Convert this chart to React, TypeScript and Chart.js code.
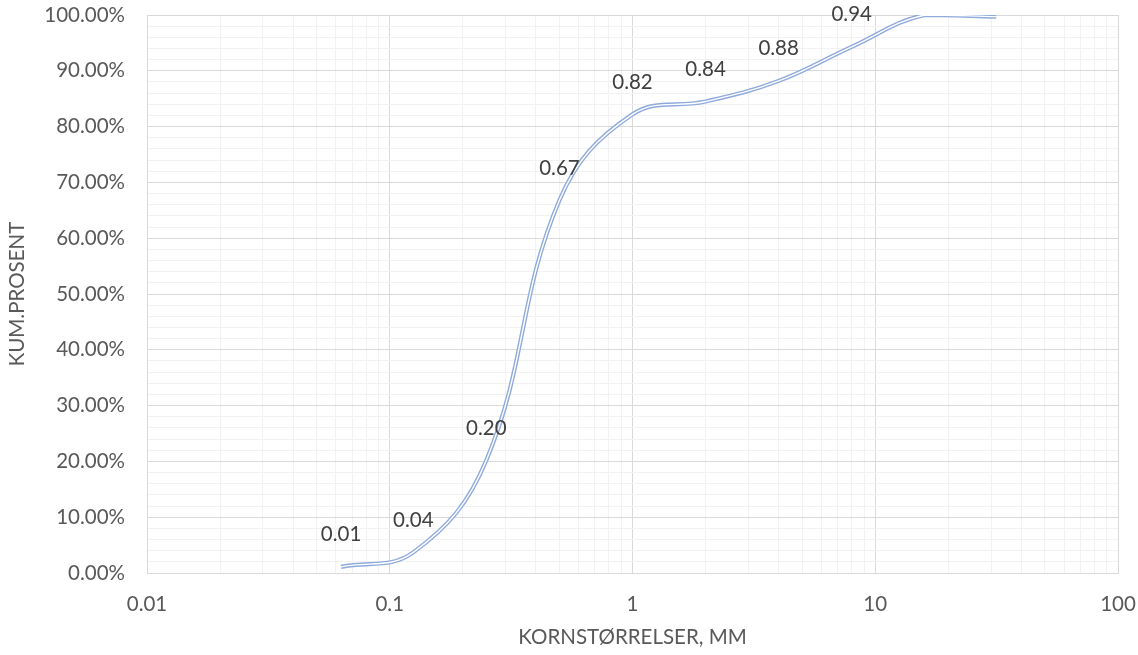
import React, { useEffect, useRef } from 'react';
import { Chart, registerables } from 'chart.js';

Chart.register(...registerables);

// Sieve sizes (mm) and cumulative passing fraction
const grainSizes = [0.063, 0.125, 0.25, 0.5, 1, 2, 4, 8, 16, 31.5];
const cumulative = [0.011, 0.037, 0.202, 0.668, 0.822, 0.845, 0.882, 0.943, 1.0, 0.997];
const showLabel = [true, true, true, true, true, true, true, true, false, false];

const xTitle = 'KORNSTØRRELSER, MM';
const yTitle = 'KUM.PROSENT';

const FONT = 'Lato, "Open Sans", sans-serif';
const FS = 20.5;
const TEXT = '#595959';
const MAJOR = '#d9d9d9';
const MINOR = '#f2f2f2';

const isDecade = (v: number) => Math.abs(Math.log10(v) - Math.round(Math.log10(v))) < 1e-9;
const isMajorY = (v: number) => Math.round(v * 50) % 5 === 0;

const labelPlugin = {
  id: 'pointValueLabels',
  afterDatasetsDraw(chart: any) {
    const meta = chart.getDatasetMeta(1);
    const ctx = chart.ctx;
    ctx.save();
    ctx.font = `${FS}px ${FONT}`;
    ctx.fillStyle = '#404040';
    ctx.textAlign = 'center';
    ctx.textBaseline = 'middle';
    meta.data.forEach((el: any, i: number) => {
      if (!showLabel[i]) return;
      ctx.fillText(cumulative[i].toFixed(2), el.x, el.y - 32);
    });
    ctx.restore();
  },
};

export default function App() {
  const ref = useRef<HTMLCanvasElement | null>(null);

  useEffect(() => {
    if (!ref.current) return;
    const points = grainSizes.map((x, i) => ({ x, y: cumulative[i] }));
    const chart = new Chart(ref.current, {
      type: 'line',
      data: {
        datasets: [
          {
            data: points,
            borderColor: '#ffffff',
            borderWidth: 1.4,
            pointRadius: 0,
            tension: 0.4,
            fill: false,
          },
          {
            data: points,
            borderColor: '#8faadc',
            borderWidth: 4.2,
            pointRadius: 0,
            tension: 0.4,
            fill: false,
          },
        ],
      },
      options: {
        responsive: false,
        animation: false,
        events: [],
        layout: { padding: { left: 0, right: 20, top: 15, bottom: 0 } },
        plugins: {
          legend: { display: false },
          tooltip: { enabled: false },
        },
        scales: {
          x: {
            type: 'logarithmic',
            min: 0.01,
            max: 100,
            afterBuildTicks: (scale: any) => {
              const ticks: { value: number }[] = [];
              for (let e = -2; e <= 1; e++) {
                for (let m = 1; m <= 9; m++) ticks.push({ value: m * Math.pow(10, e) });
              }
              ticks.push({ value: 100 });
              scale.ticks = ticks;
            },
            afterFit: (scale: any) => {
              scale.height = 82;
              scale.paddingLeft = 0;
              scale.paddingRight = 0;
            },
            ticks: {
              autoSkip: false,
              maxRotation: 0,
              padding: 19,
              color: TEXT,
              font: { family: FONT, size: FS },
              callback: (v: any) => {
                const n = Number(v);
                if (!isDecade(n)) return '';
                return n >= 1 ? String(Math.round(n)) : String(Number(n.toPrecision(1)));
              },
            },
            grid: {
              drawTicks: false,
              lineWidth: 1,
              color: (c: any) => (c.tick && isDecade(c.tick.value) ? MAJOR : MINOR),
            },
            border: { color: MAJOR, width: 1 },
            title: {
              display: true,
              text: xTitle,
              color: TEXT,
              font: { family: FONT, size: FS },
              padding: { top: 0, bottom: 5 },
            },
          },
          y: {
            type: 'linear',
            min: 0,
            max: 1,
            afterBuildTicks: (scale: any) => {
              scale.ticks = Array.from({ length: 51 }, (_, i) => ({ value: i / 50 }));
            },
            afterFit: (scale: any) => {
              scale.width = 147;
              scale.paddingTop = 0;
              scale.paddingBottom = 0;
            },
            ticks: {
              autoSkip: false,
              padding: 22,
              color: TEXT,
              font: { family: FONT, size: FS },
              callback: (v: any) => {
                const n = Number(v);
                return isMajorY(n) ? (n * 100).toFixed(2) + '%' : '';
              },
            },
            grid: {
              drawTicks: false,
              lineWidth: 1,
              color: (c: any) => (c.tick && isMajorY(c.tick.value) ? MAJOR : MINOR),
            },
            border: { color: MAJOR, width: 1 },
            title: {
              display: true,
              text: yTitle,
              color: TEXT,
              font: { family: FONT, size: FS },
              padding: { top: 5, bottom: 0 },
            },
          },
        },
      },
      plugins: [labelPlugin],
    });
    return () => chart.destroy();
  }, []);

  return (
    <div style={{ position: 'absolute', left: 0, top: 0, width: 1138, height: 655, background: '#fff' }}>
      <canvas ref={ref} width={1138} height={655} style={{ display: 'block' }} />
    </div>
  );
}
